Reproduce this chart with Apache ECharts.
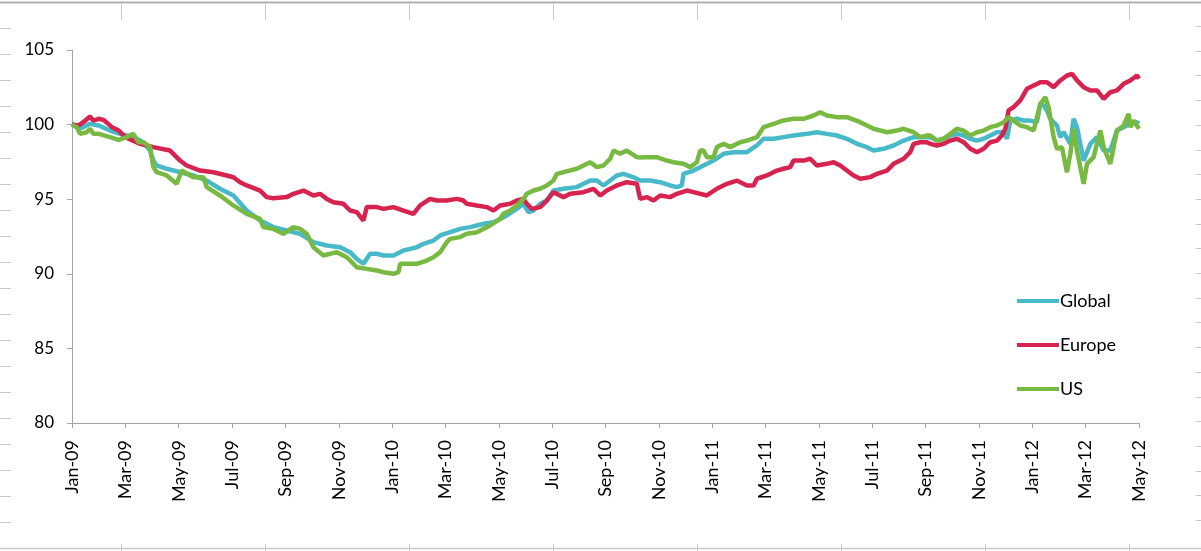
<!DOCTYPE html>
<html>
<head>
<meta charset="utf-8">
<script src="https://cdn.jsdelivr.net/npm/echarts@6/dist/echarts.min.js"></script>
<style>
html,body{margin:0;padding:0;background:#fff;}
#chart{width:1201px;height:551px;}
</style>
</head>
<body>
<div id="chart"></div>
<script>
// x positions are months since Jan-09 (0 = Jan-09, 40 = May-12)
const tickLabels = ['Jan-09','Mar-09','May-09','Jul-09','Sep-09','Nov-09','Jan-10','Mar-10','May-10','Jul-10','Sep-10','Nov-10','Jan-11','Mar-11','May-11','Jul-11','Sep-11','Nov-11','Jan-12','Mar-12','May-12'];
const seriesNames = ['Global','Europe','US'];

const globalData = [[0,100],[0.3,99.72],[0.675,100.05],[1.0,99.94],[1.425,99.6],[1.8,99.38],[2.05,99.27],[2.425,99.05],[2.675,98.82],[2.925,98.26],[3.05,97.59],[3.175,97.26],[3.55,97.04],[4.05,96.81],[4.55,96.59],[5.05,96.25],[5.55,95.7],[6.05,95.25],[6.55,94.24],[7.05,93.57],[7.55,93.13],[8.05,92.9],[8.55,92.68],[9.05,92.12],[9.55,91.9],[10.05,91.78],[10.425,91.45],[10.675,91.0],[10.925,90.67],[11.175,91.34],[11.425,91.34],[11.675,91.23],[12.05,91.23],[12.3,91.45],[12.425,91.56],[12.675,91.67],[12.925,91.78],[13.175,92.01],[13.55,92.23],[13.8,92.57],[14.175,92.79],[14.55,93.01],[14.925,93.13],[15.175,93.24],[15.425,93.35],[15.8,93.46],[16.05,93.68],[16.3,93.91],[16.675,94.35],[16.925,94.69],[17.11,94.13],[17.3,94.24],[17.55,94.69],[17.8,94.91],[18.05,95.58],[18.425,95.7],[18.925,95.81],[19.425,96.25],[19.675,96.25],[19.925,95.92],[20.175,96.25],[20.425,96.59],[20.675,96.7],[21.05,96.47],[21.3,96.25],[21.675,96.25],[22.05,96.14],[22.425,95.92],[22.675,95.81],[22.86,95.92],[22.925,96.7],[23.3,96.92],[23.675,97.26],[24.05,97.59],[24.425,98.04],[24.8,98.15],[25.3,98.15],[25.675,98.6],[25.925,99.05],[26.3,99.05],[26.675,99.16],[27.05,99.27],[27.55,99.38],[27.925,99.49],[28.3,99.38],[28.675,99.27],[29.05,99.05],[29.425,98.71],[29.8,98.49],[30.05,98.26],[30.425,98.38],[30.8,98.6],[31.175,98.93],[31.55,99.16],[31.8,99.16],[32.175,99.16],[32.425,98.93],[32.675,99.05],[32.925,99.27],[33.175,99.38],[33.425,99.27],[33.675,99.05],[33.925,98.93],[34.175,99.05],[34.425,99.27],[34.675,99.49],[34.925,99.49],[35.05,99.05],[35.175,100.27],[35.425,100.39],[35.675,100.27],[35.925,100.27],[36.175,100.16],[36.3,101.39],[36.425,101.28],[36.55,100.94],[36.675,100.39],[36.925,99.94],[37.05,99.16],[37.175,99.49],[37.425,98.71],[37.55,100.39],[37.675,99.83],[37.925,97.59],[38.175,98.71],[38.425,99.16],[38.675,98.26],[38.925,98.26],[39.175,99.6],[39.425,99.83],[39.675,100.05],[39.925,100.16],[40,100.05]];

const europeData = [[0,100.0],[0.25,99.94],[0.5,100.27],[0.675,100.54],[0.8,100.27],[1.0,100.39],[1.175,100.32],[1.5,99.83],[1.75,99.6],[2.0,99.16],[2.55,98.71],[3.05,98.49],[3.675,98.26],[4.05,97.59],[4.3,97.26],[4.8,96.92],[5.3,96.81],[5.8,96.59],[6.05,96.47],[6.3,96.14],[6.55,95.92],[7.05,95.58],[7.3,95.14],[7.55,95.07],[8.05,95.14],[8.3,95.36],[8.675,95.58],[9.05,95.25],[9.3,95.36],[9.55,95.02],[9.8,94.8],[10.175,94.69],[10.425,94.24],[10.675,94.13],[10.925,93.57],[11.05,94.47],[11.425,94.47],[11.675,94.35],[12.05,94.47],[12.425,94.24],[12.8,94.02],[13.05,94.58],[13.425,95.02],[13.675,94.91],[14.05,94.91],[14.425,95.02],[14.675,94.91],[14.8,94.69],[15.175,94.58],[15.55,94.47],[15.8,94.24],[16.05,94.58],[16.425,94.69],[16.675,94.91],[16.925,95.02],[17.05,94.69],[17.24,94.35],[17.55,94.47],[17.8,94.91],[18.05,95.47],[18.425,95.14],[18.675,95.36],[19.175,95.47],[19.55,95.7],[19.8,95.25],[20.05,95.58],[20.425,95.92],[20.8,96.14],[21.175,96.03],[21.3,95.02],[21.55,95.14],[21.8,94.91],[22.05,95.25],[22.425,95.14],[22.675,95.36],[23.05,95.58],[23.3,95.47],[23.8,95.25],[24.175,95.7],[24.55,96.03],[24.925,96.25],[25.3,95.92],[25.55,95.92],[25.675,96.37],[26.05,96.59],[26.425,96.92],[26.675,97.04],[26.925,97.15],[27.05,97.59],[27.425,97.59],[27.675,97.71],[27.925,97.26],[28.3,97.37],[28.55,97.48],[28.8,97.26],[29.05,96.92],[29.3,96.59],[29.55,96.37],[29.925,96.48],[30.175,96.7],[30.55,96.92],[30.8,97.37],[31.175,97.71],[31.425,98.15],[31.55,98.71],[31.8,98.82],[32.05,98.82],[32.175,98.71],[32.425,98.6],[32.675,98.71],[32.925,98.93],[33.175,99.05],[33.425,98.82],[33.675,98.38],[33.925,98.15],[34.175,98.38],[34.425,98.82],[34.675,98.93],[34.86,99.27],[34.99,99.72],[35.11,100.95],[35.3,101.17],[35.55,101.62],[35.8,102.4],[36.05,102.62],[36.3,102.84],[36.55,102.84],[36.8,102.51],[37.05,102.96],[37.3,103.29],[37.49,103.4],[37.675,102.96],[37.925,102.51],[38.175,102.29],[38.425,102.29],[38.675,101.73],[38.925,102.17],[39.175,102.29],[39.425,102.73],[39.675,102.96],[39.925,103.29],[40,103.07]];

const usData = [[0,100],[0.175,99.83],[0.3,99.38],[0.55,99.49],[0.675,99.72],[0.8,99.38],[1.0,99.38],[1.425,99.16],[1.75,98.98],[2.05,99.16],[2.3,99.38],[2.49,98.82],[2.675,98.82],[2.925,98.49],[3.05,97.15],[3.175,96.81],[3.55,96.59],[3.925,96.03],[4.11,96.92],[4.55,96.47],[4.925,96.47],[5.05,95.81],[5.55,95.25],[6.05,94.58],[6.55,94.02],[7.05,93.68],[7.175,93.13],[7.55,93.01],[7.925,92.68],[8.3,93.13],[8.55,93.01],[8.8,92.68],[9.05,91.78],[9.425,91.23],[9.925,91.45],[10.3,91.11],[10.425,90.89],[10.675,90.44],[11.05,90.33],[11.425,90.22],[11.675,90.11],[12.05,90.0],[12.24,90.11],[12.3,90.67],[12.55,90.67],[12.925,90.67],[13.3,90.89],[13.55,91.11],[13.8,91.45],[14.05,92.12],[14.175,92.34],[14.55,92.46],[14.8,92.68],[15.175,92.79],[15.425,93.01],[15.675,93.24],[16.05,93.68],[16.175,94.02],[16.425,94.24],[16.675,94.58],[16.925,95.02],[17.05,95.36],[17.3,95.58],[17.55,95.7],[17.8,95.92],[18.05,96.25],[18.175,96.7],[18.425,96.81],[18.925,97.04],[19.425,97.48],[19.675,97.15],[19.925,97.26],[20.175,97.71],[20.3,98.26],[20.55,98.04],[20.8,98.26],[21.175,97.82],[21.3,97.8],[21.55,97.82],[21.925,97.82],[22.3,97.59],[22.55,97.48],[22.925,97.37],[23.175,97.15],[23.425,97.48],[23.55,98.26],[23.675,98.26],[23.8,97.82],[24.05,97.82],[24.175,98.49],[24.425,98.71],[24.675,98.49],[25.05,98.82],[25.3,98.93],[25.675,99.16],[25.925,99.83],[26.3,100.05],[26.675,100.28],[27.05,100.39],[27.425,100.39],[27.8,100.61],[28.05,100.83],[28.3,100.61],[28.675,100.5],[29.05,100.5],[29.55,100.16],[30.05,99.72],[30.55,99.49],[30.925,99.6],[31.175,99.72],[31.55,99.49],[31.8,99.16],[32.05,99.27],[32.175,99.27],[32.425,98.93],[32.675,99.05],[32.925,99.38],[33.175,99.72],[33.425,99.6],[33.675,99.27],[33.925,99.49],[34.175,99.6],[34.425,99.83],[34.675,99.94],[34.925,100.16],[35.11,100.5],[35.3,100.27],[35.55,99.94],[35.8,99.83],[36.05,99.6],[36.3,101.39],[36.49,101.84],[36.61,101.17],[36.8,99.16],[36.925,98.38],[37.11,98.49],[37.3,96.81],[37.425,98.04],[37.55,99.72],[37.675,98.26],[37.925,96.03],[38.05,97.37],[38.3,97.82],[38.55,99.6],[38.675,98.49],[38.925,97.37],[39.175,99.6],[39.425,99.94],[39.61,100.72],[39.675,99.83],[39.8,100.27],[40,99.72]];

const colors = ['#48B9C8','#D72350','#78B941'];
const FONT = 'Lato, "Open Sans", "Liberation Sans", sans-serif';

// decorative spreadsheet cell borders around the chart object
const deco = [];
const lineStyle = {stroke:'#C8C8C8', lineWidth:1};
deco.push({type:'line', silent:true, shape:{x1:0,y1:2.5,x2:1201,y2:2.5}, style:{stroke:'#B0B0B0', lineWidth:2}});
deco.push({type:'line', silent:true, shape:{x1:0,y1:548.5,x2:1201,y2:548.5}, style:{stroke:'#C8C8C8', lineWidth:1.5}});
[121,265,409,553,697,841,985,1129].forEach(x=>{
  deco.push({type:'line', silent:true, shape:{x1:x+0.5,y1:3,x2:x+0.5,y2:20}, style:lineStyle});
  deco.push({type:'line', silent:true, shape:{x1:x+0.5,y1:544,x2:x+0.5,y2:551}, style:lineStyle});
});
for (let i=0;i<20;i++){
  const y = Math.round(28 + i*26) + 0.5;
  deco.push({type:'line', silent:true, shape:{x1:0,y1:y,x2:11,y2:y}, style:lineStyle});
}
for (let i=0;i<21;i++){
  const y = Math.round(26 + i*24.7) + 0.5;
  deco.push({type:'line', silent:true, shape:{x1:1196,y1:y,x2:1201,y2:y}, style:lineStyle});
}

const chart = echarts.init(document.getElementById('chart'), null, {renderer:'canvas'});
chart.setOption({
  animation:false,
  backgroundColor:'#ffffff',
  color: colors,
  graphic: deco,
  grid:{left:72, right:62, top:50, bottom:128, containLabel:false},
  legend:{
    orient:'vertical',
    left:1012, top:287,
    itemWidth:42, itemHeight:4, itemGap:26,
    icon:'rect',
    data: seriesNames,
    textStyle:{fontFamily:FONT, fontSize:18, color:'#000', padding:[0,0,0,-4]}
  },
  xAxis:{
    type:'value', min:0, max:40, interval:2,
    axisLine:{show:true, lineStyle:{color:'#A6A6A6', width:1}},
    axisTick:{show:true, length:5, lineStyle:{color:'#A6A6A6'}},
    splitLine:{show:false},
    axisLabel:{
      rotate:90, margin:17,
      fontFamily:FONT, fontSize:18, color:'#000',
      formatter:(v)=> tickLabels[Math.round(v/2)] || ''
    }
  },
  yAxis:{
    type:'value', min:80, max:105, interval:5,
    axisLine:{show:true, lineStyle:{color:'#A6A6A6', width:1}},
    axisTick:{show:true, length:5, lineStyle:{color:'#A6A6A6'}},
    splitLine:{show:false},
    axisLabel:{margin:18, fontFamily:FONT, fontSize:17, color:'#000'}
  },
  series:[
    {name:seriesNames[0], type:'line', data:globalData, showSymbol:false, lineStyle:{width:4.5, color:colors[0]}, itemStyle:{color:colors[0]}},
    {name:seriesNames[1], type:'line', data:europeData, showSymbol:false, lineStyle:{width:4.5, color:colors[1]}, itemStyle:{color:colors[1]}},
    {name:seriesNames[2], type:'line', data:usData, showSymbol:false, lineStyle:{width:4.5, color:colors[2]}, itemStyle:{color:colors[2]}}
  ]
});
</script>
</body>
</html>
